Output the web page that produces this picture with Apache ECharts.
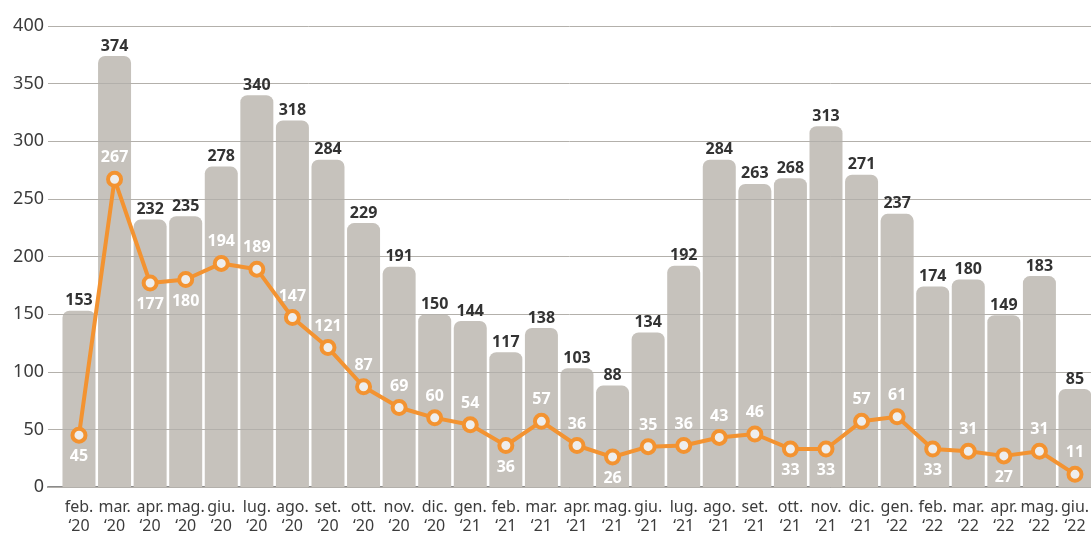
<!DOCTYPE html>
<html lang="it">
<head>
  <meta charset="UTF-8">
  <title>Chart</title>
  <script src="https://cdn.jsdelivr.net/npm/echarts@6/dist/echarts.min.js"></script>
  <style>
    html, body, #chart { width: 100%; height: 100%; margin: 0; padding: 0; background: #fff; }
  </style>
</head>
<body>
  <div id="chart"></div>
  <script>
    const months = ['feb.', 'mar.', 'apr.', 'mag.', 'giu.', 'lug.', 'ago.', 'set.', 'ott.', 'nov.', 'dic.',
      'gen.', 'feb.', 'mar.', 'apr.', 'mag.', 'giu.', 'lug.', 'ago.', 'set.', 'ott.', 'nov.', 'dic.',
      'gen.', 'feb.', 'mar.', 'apr.', 'mag.', 'giu.']
    const years = ['20', '20', '20', '20', '20', '20', '20', '20', '20', '20', '20',
      '21', '21', '21', '21', '21', '21', '21', '21', '21', '21', '21', '21',
      '22', '22', '22', '22', '22', '22']
    const barValues = [153, 374, 232, 235, 278, 340, 318, 284, 229, 191, 150, 144, 117, 138, 103, 88, 134,
      192, 284, 263, 268, 313, 271, 237, 174, 180, 149, 183, 85]
    const lineValues = [45, 267, 177, 180, 194, 189, 147, 121, 87, 69, 60, 54, 36, 57, 36, 26, 35,
      36, 43, 46, 33, 33, 57, 61, 33, 31, 27, 31, 11]
    // which line labels sit under the point
    const belowIdx = [0, 2, 3, 12, 15, 20, 21, 24, 26]

    const chart = echarts.init(document.getElementById('chart'))
    const font = 'Noto Sans'
    const idx = months.map((m, i) => i)
    const barData = barValues.map((v, i) => [i, v])

    chart.setOption({
      animation: false,
      grid: { left: 48, right: 0, top: 26, bottom: 46, outerBoundsMode: 'none' },
      xAxis: {
        type: 'value',
        min: -0.871,
        max: 28.45,
        splitLine: { show: false },
        axisTick: { show: false },
        axisLine: { show: true, onZero: false, lineStyle: { color: '#8a8a8a', width: 2 } },
        axisLabel: {
          customValues: idx,
          formatter: v => months[v] + '\n\u2018' + years[v],
          fontFamily: font,
          fontSize: 16,
          lineHeight: 19,
          color: '#3c3c3c',
          margin: 11
        }
      },
      yAxis: {
        type: 'value',
        min: 0,
        max: 400,
        interval: 50,
        z: 3,
        axisLine: { show: false },
        axisTick: { show: false },
        splitLine: { lineStyle: { color: '#b3b0ab', width: 1 } },
        axisLabel: { fontFamily: font, fontSize: 18, color: '#3c3c3c', margin: 4 }
      },
      series: [
        {
          type: 'bar',
          z: 2,
          barWidth: 33,
          data: barData,
          itemStyle: { color: '#c6c2bc', borderRadius: [7, 7, 0, 0] }
        },
        {
          // same bars, transparent, only to put the value labels above the grid lines
          type: 'bar',
          z: 4,
          barWidth: 33,
          barGap: '-100%',
          silent: true,
          data: barData,
          itemStyle: { color: 'rgba(0,0,0,0)' },
          label: {
            show: true,
            position: 'top',
            distance: 2,
            formatter: p => p.value[1],
            fontFamily: font,
            fontSize: 16,
            fontWeight: 'bold',
            color: '#333'
          }
        },
        {
          type: 'line',
          z: 5,
          data: lineValues.map((v, i) => ({
            value: [i, v],
            label: { position: belowIdx.includes(i) ? 'bottom' : 'top' }
          })),
          lineStyle: { color: '#f39331', width: 4 },
          symbol: 'circle',
          symbolSize: 13,
          itemStyle: { color: '#eeeeee', borderColor: '#f39331', borderWidth: 4 },
          label: {
            show: true,
            distance: 5,
            formatter: p => p.value[1],
            fontFamily: font,
            fontSize: 16,
            fontWeight: 'bold',
            color: '#fff'
          }
        }
      ]
    })
  </script>
</body>
</html>
